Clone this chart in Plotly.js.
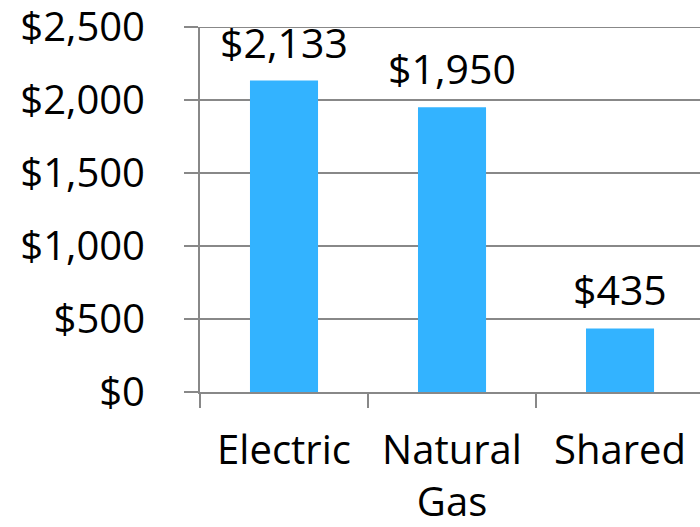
<!DOCTYPE html>
<html>
<head>
<meta charset="utf-8">
<script src="https://cdn.plot.ly/plotly-3.0.1.min.js"></script>
<style>html,body{margin:0;padding:0;background:#fff;}#chart{width:700px;height:527px;}</style>
</head>
<body>
<div id="chart"></div>
<script>
const categories = ["Electric", "Natural Gas", "Shared"];
const tickLabels = ["Electric", "Natural<br>Gas", "Shared"];
const values = [2133, 1950, 435];
const yTicks = [0, 500, 1000, 1500, 2000, 2500];

const FONT = "Open Sans, Lato, sans-serif";
const fmt = v => "$" + v.toLocaleString("en-US");
const yMax = yTicks[yTicks.length - 1];

const trace = {
  type: "bar",
  x: categories,
  y: values,
  width: 0.405,
  marker: {color: "#33b3ff", line: {width: 0}},
  hoverinfo: "none"
};

const annotations = categories.map((c, i) => ({
  x: c, y: values[i], xref: "x", yref: "y",
  text: fmt(values[i]), showarrow: false,
  yanchor: "middle", yshift: 39,
  font: {family: FONT, size: 41, color: "#000"}
}));

const layout = {
  width: 700, height: 527,
  margin: {l: 200, r: 0, t: 27, b: 135},
  paper_bgcolor: "#fff", plot_bgcolor: "#fff",
  showlegend: false,
  font: {family: FONT, size: 40, color: "#000"},
  xaxis: {
    type: "category",
    range: [-0.5, 2.476],
    tickmode: "array", tickvals: categories, ticktext: tickLabels,
    tickson: "boundaries",
    ticks: "outside", ticklen: 14, tickwidth: 2, tickcolor: "#888",
    ticklabelstandoff: 22,
    ticklabeloverflow: "allow",
    showline: true, linecolor: "#888", linewidth: 2,
    showgrid: false, zeroline: false,
    tickfont: {family: FONT, size: 40, color: "#000"}
  },
  yaxis: {
    range: [0, yMax],
    tickmode: "array", tickvals: yTicks,
    ticktext: yTicks.map(fmt),
    ticks: "outside", ticklen: 14, tickwidth: 2, tickcolor: "#888",
    ticklabelstandoff: 31,
    ticklabeloverflow: "allow",
    showline: true, linecolor: "#888", linewidth: 2,
    showgrid: true, gridcolor: "#888", gridwidth: 2,
    zeroline: false,
    tickfont: {family: FONT, size: 40, color: "#000"}
  },
  shapes: [{
    type: "line", xref: "paper", yref: "y",
    x0: -0.028, x1: 1, y0: yMax, y1: yMax,
    line: {color: "#888", width: 2}, layer: "above"
  }],
  annotations: annotations
};

Plotly.newPlot("chart", [trace], layout, {staticPlot: true, displayModeBar: false});
</script>
</body>
</html>
